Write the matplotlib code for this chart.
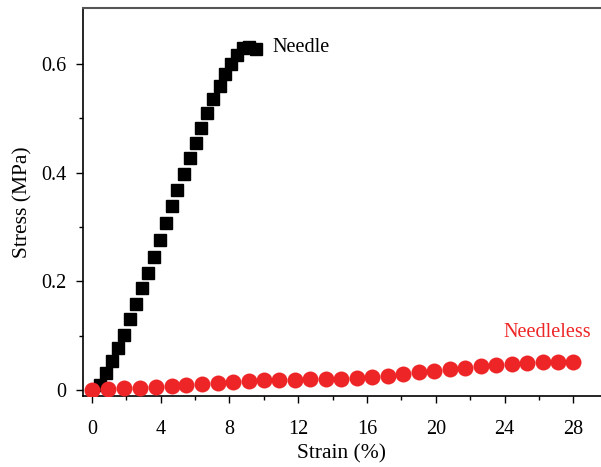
import matplotlib
matplotlib.use('Agg')
import matplotlib.pyplot as plt
from matplotlib.ticker import MultipleLocator, FixedLocator

plt.rcParams['font.family'] = ['Liberation Serif', 'DejaVu Serif']

# Needle sample (black squares)
needle_strain = [0.47, 0.81, 1.16, 1.53, 1.88, 2.20, 2.56, 2.91, 3.26, 3.60,
                 3.95, 4.30, 4.65, 4.96, 5.35, 5.70, 6.03, 6.37, 6.72, 7.07,
                 7.42, 7.75, 8.10, 8.45, 8.80, 9.15, 9.53]
needle_stress = [0.009, 0.031, 0.053, 0.077, 0.101, 0.130, 0.158, 0.187, 0.215, 0.245,
                 0.276, 0.307, 0.338, 0.368, 0.398, 0.427, 0.454, 0.483, 0.510, 0.535,
                 0.560, 0.582, 0.600, 0.617, 0.629, 0.632, 0.627]

# Needleless sample (red circles)
needleless_strain = [0, 0.95, 1.86, 2.79, 3.70, 4.63, 5.50, 6.41, 7.31, 8.22,
                     9.13, 10.0, 10.9, 11.8, 12.7, 13.6, 14.5, 15.4, 16.3, 17.2,
                     18.1, 19.0, 19.9, 20.8, 21.7, 22.6, 23.5, 24.4, 25.3, 26.2,
                     27.1, 28.0]
needleless_stress = [0, 0.0018, 0.0031, 0.0042, 0.005, 0.0068, 0.0086, 0.0105, 0.0129, 0.0147,
                     0.0166, 0.0179, 0.019, 0.019, 0.020, 0.020, 0.021, 0.022, 0.024, 0.026,
                     0.0295, 0.0326, 0.0355, 0.038, 0.041, 0.0436, 0.0455, 0.048, 0.0497, 0.0516,
                     0.052, 0.051]

x_ticks = [0, 4, 8, 12, 16, 20, 24, 28]
y_ticks = [0, 0.2, 0.4, 0.6]
y_tick_labels = ['0', '0.2', '0.4', '0.6']

red = '#ee2526'

fig = plt.figure(figsize=(6.01, 4.67), dpi=100)
ax = fig.add_axes([0.138, 0.152, 0.862, 0.831])

ax.plot(needle_strain, needle_stress, linestyle='none', marker='s',
        markersize=8.6, color='black', zorder=2)
ax.plot(needleless_strain, needleless_stress, linestyle='none', marker='o',
        markersize=11.5, color=red, markeredgewidth=0, zorder=3)

ax.text(10.5, 0.630, 'Needle', fontsize=14.5, color='black', va='center', ha='left')
ax.text(23.9, 0.105, 'Needleless', fontsize=14.5, color=red, va='center', ha='left')

ax.set_xlim(-0.52, 29.6)
ax.set_ylim(-0.011, 0.703)

ax.set_xticks(x_ticks)
ax.xaxis.set_minor_locator(MultipleLocator(2))
ax.set_yticks(y_ticks)
ax.set_yticklabels(y_tick_labels)
ax.yaxis.set_minor_locator(FixedLocator([0.1, 0.3, 0.5]))

ax.tick_params(which='major', direction='out', length=5, width=1, labelsize=14.5)
ax.tick_params(which='minor', direction='out', length=3, width=1)
ax.tick_params(axis='x', which='major', pad=12)
ax.tick_params(axis='y', which='major', pad=7)

ax.spines['right'].set_visible(False)
ax.spines['top'].set_color('#555555')
ax.spines['top'].set_linewidth(1.5)
ax.spines['left'].set_linewidth(1.2)
ax.spines['bottom'].set_linewidth(1.2)

ax.set_xlabel('Strain (%)', fontsize=15.5, labelpad=4)
ax.set_ylabel('Stress (MPa)', fontsize=15.5, labelpad=6)

fig.savefig('out.png', dpi=100)
